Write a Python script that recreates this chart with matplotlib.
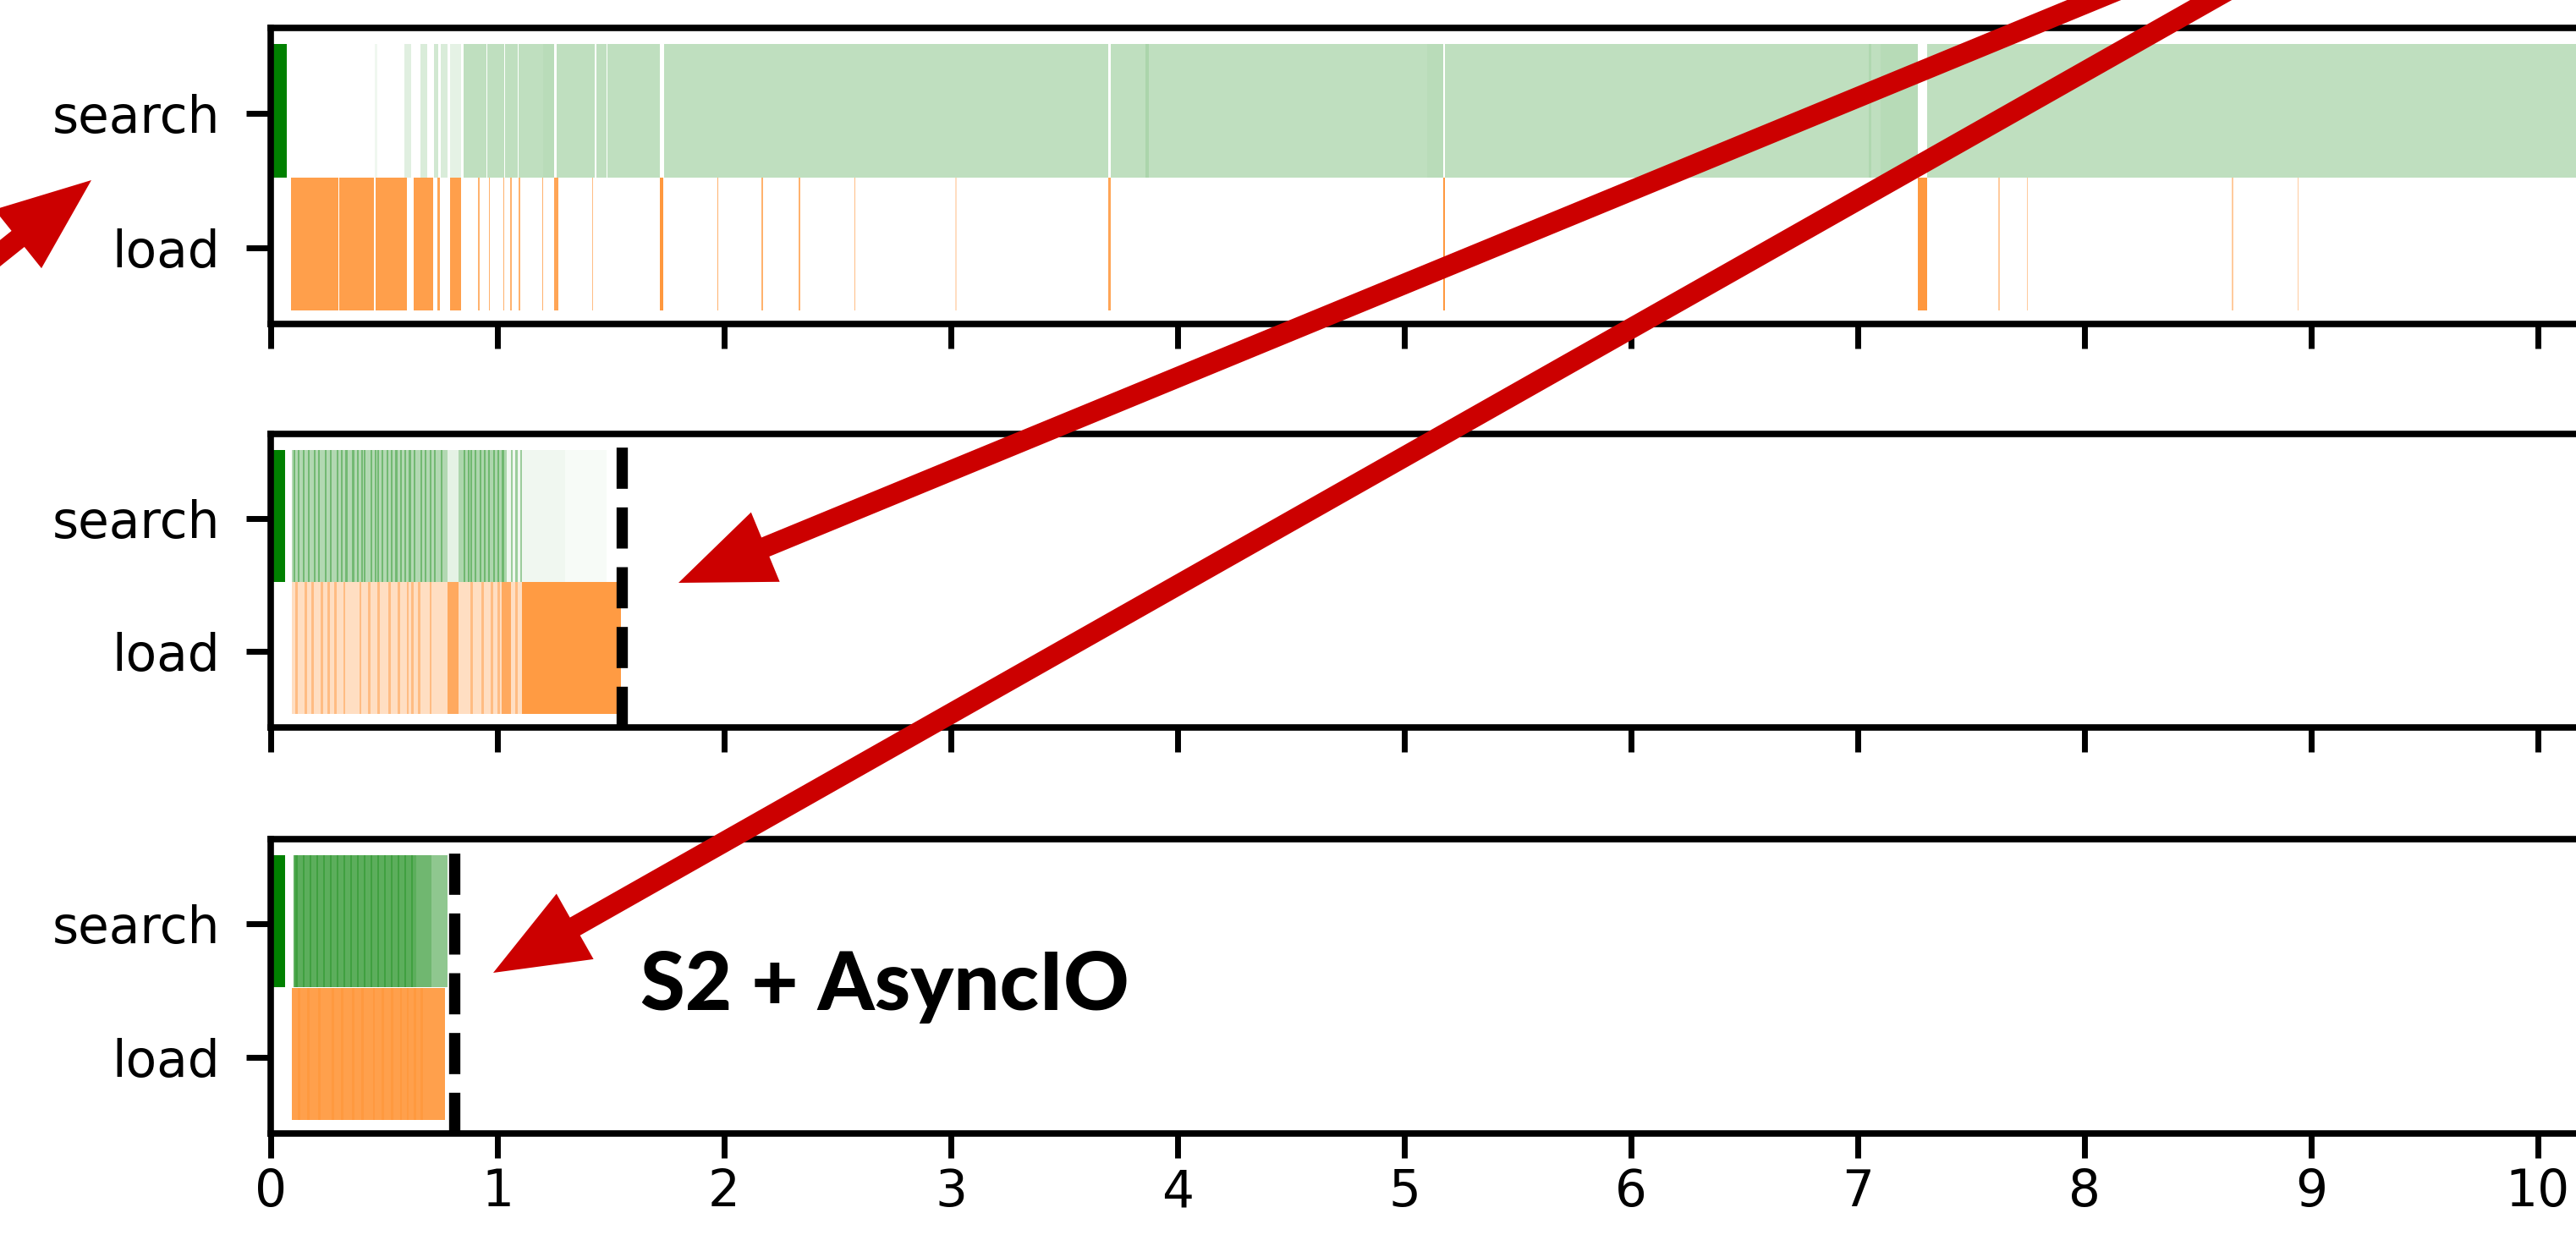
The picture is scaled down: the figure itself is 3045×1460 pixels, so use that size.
import matplotlib.pyplot as plt
from matplotlib.colors import to_rgba
from matplotlib.patches import FancyArrowPatch, ArrowStyle

rows = ['load', 'search']
x_ticks = list(range(0, 11))
label_text = 'S2 + AsyncIO'

# ---- panel 1 (top): (start, end, alpha)
p1_search_seg = [
    (0.00, 0.07, 1.0),
    (0.46, 0.47, 0.06), (0.59, 0.62, 0.12), (0.66, 0.69, 0.15), (0.72, 0.74, 0.18),
    (0.75, 0.78, 0.15), (0.79, 0.84, 0.10),
    (0.85, 0.95, 0.25), (0.955, 1.03, 0.25), (1.035, 1.09, 0.25), (1.095, 1.25, 0.25),
    (1.26, 1.43, 0.25), (1.435, 1.48, 0.25), (1.485, 1.715, 0.25), (1.735, 3.695, 0.25),
    (3.705, 5.17, 0.25), (5.18, 7.265, 0.25), (7.305, 10.6, 0.25),
]
p1_search_over = [
    (3.86, 3.872, 0.10), (5.10, 5.17, 0.03), (7.10, 7.265, 0.04), (7.05, 7.06, 0.08),
    (1.20, 1.25, 0.03),
]
p1_load_seg = [
    (0.089, 0.30, 0.75), (0.303, 0.455, 0.75), (0.462, 0.60, 0.75), (0.63, 0.715, 0.75),
    (0.735, 0.745, 0.70), (0.79, 0.84, 0.75), (0.915, 0.92, 0.60), (0.962, 0.967, 0.60),
    (1.025, 1.031, 0.60), (1.057, 1.062, 0.60), (1.095, 1.10, 0.60), (1.196, 1.202, 0.60),
    (1.25, 1.27, 0.70), (1.418, 1.423, 0.50), (1.717, 1.73, 0.80), (1.97, 1.975, 0.60),
    (2.165, 2.172, 0.60), (2.33, 2.336, 0.60), (2.575, 2.58, 0.50), (3.02, 3.025, 0.25),
    (3.695, 3.705, 0.70), (5.17, 5.18, 0.80), (7.265, 7.305, 0.80), (7.62, 7.625, 0.40),
    (7.745, 7.75, 0.40), (8.65, 8.655, 0.40), (8.94, 8.945, 0.40),
]

# ---- panel 2 (middle)
p2_end = 1.55
p2_search_seg = [
    (0.00, 0.062, 1.0),
    (0.093, 0.78, 0.30), (0.78, 0.83, 0.10), (0.83, 1.04, 0.32), (1.04, 1.11, 0.06),
    (1.11, 1.30, 0.06), (1.30, 1.48, 0.03),
]
p2_search_stripes = [
    0.10, 0.12, 0.14, 0.165, 0.19, 0.21, 0.24, 0.26, 0.29, 0.31, 0.33, 0.36, 0.38,
    0.40, 0.41, 0.44, 0.46, 0.47, 0.49, 0.51, 0.53, 0.55, 0.57, 0.59, 0.61, 0.63,
    0.66, 0.68, 0.70, 0.72, 0.75, 0.85, 0.87, 0.88, 0.90, 0.92, 0.94, 0.96, 0.98,
    1.00, 1.02, 1.06, 1.08, 1.10,
]
p2_load_seg = [
    (0.093, 1.11, 0.25), (0.78, 0.83, 0.55), (1.02, 1.06, 0.55), (1.11, 1.545, 0.78),
]
p2_load_stripes = [
    0.11, 0.15, 0.18, 0.22, 0.25, 0.28, 0.32, 0.39, 0.43, 0.47, 0.52, 0.56, 0.60,
    0.62, 0.65, 0.70, 0.88, 0.93, 0.97, 1.00, 1.08,
]

# ---- panel 3 (bottom)
p3_end = 0.81
p3_search_seg = [
    (0.00, 0.062, 1.0),
    (0.10, 0.64, 0.64), (0.64, 0.71, 0.56), (0.71, 0.78, 0.44),
]
p3_search_stripes = [
    0.11, 0.14, 0.17, 0.20, 0.23, 0.26, 0.29, 0.32, 0.35, 0.38, 0.41, 0.44, 0.47,
    0.50, 0.53, 0.56, 0.59, 0.62,
]
p3_load_seg = [(0.093, 0.77, 0.74)]
p3_load_stripes = [
    0.12, 0.16, 0.21, 0.27, 0.31, 0.36, 0.40, 0.45, 0.49, 0.53, 0.57, 0.60, 0.63, 0.66,
]

GREEN = 'green'
ORANGE = '#ff7f0e'
W = 3045
H = 1460

plt.rcParams['font.family'] = ['DejaVu Sans']
fig = plt.figure(figsize=(W / 100, H / 100), dpi=100)

left = 320 / W
width = 10.6 * 268 / W
tops = [33, 513, 992]
bots = [383, 860, 1340]


def draw_segs(ax, segs, y, color):
    ax.barh(y, [e - s for s, e, a in segs], left=[s for s, e, a in segs],
            height=0.99, color=[to_rgba(color, a) for s, e, a in segs], linewidth=0)


def draw_stripes(ax, xs, y, color, alpha, w):
    ax.barh([y] * len(xs), [w] * len(xs), left=xs, height=0.99,
            color=to_rgba(color, alpha), linewidth=0)


axes = []
for i in range(3):
    ax = fig.add_axes([left, 1 - bots[i] / H, width, (bots[i] - tops[i]) / H])
    ax.set_xlim(0, 10.6)
    ax.set_ylim(-0.57, 1.635)
    ax.set_yticks([0, 1])
    ax.set_yticklabels(rows)
    ax.set_xticks(x_ticks)
    if i < 2:
        ax.set_xticklabels([])
    for sp in ax.spines.values():
        sp.set_linewidth(5.5)
    ax.tick_params(axis='both', length=21, width=5, labelsize=43)
    ax.tick_params(axis='y', pad=22)
    ax.tick_params(axis='x', pad=8)
    axes.append(ax)

ys, yl = 1.018, 0.025
dash = (0, (3.65, 1.65))

draw_segs(axes[0], p1_search_seg, ys, GREEN)
draw_segs(axes[0], p1_search_over, ys, GREEN)
draw_segs(axes[0], p1_load_seg, yl, ORANGE)

draw_segs(axes[1], p2_search_seg, ys, GREEN)
draw_stripes(axes[1], p2_search_stripes, ys, GREEN, 0.35, 0.008)
draw_segs(axes[1], p2_load_seg, yl, ORANGE)
draw_stripes(axes[1], p2_load_stripes, yl, ORANGE, 0.35, 0.01)
axes[1].axvline(p2_end, color='black', linewidth=9.6, linestyle=dash)

draw_segs(axes[2], p3_search_seg, ys, GREEN)
draw_stripes(axes[2], p3_search_stripes, ys, GREEN, 0.3, 0.008)
draw_segs(axes[2], p3_load_seg, yl, ORANGE)
draw_stripes(axes[2], p3_load_stripes, yl, ORANGE, 0.2, 0.01)
axes[2].axvline(p3_end, color='black', linewidth=9.6, linestyle=dash)

fig.text(757 / W, 1 - 1194 / H, label_text, fontsize=69, fontweight='black',
         family=['Lato', 'DejaVu Sans'], ha='left', va='baseline')

# red annotation arrows (pixel positions on the slide)
arrows = [((-127, 401), (108, 213)), ((2558, -34), (802, 689)), ((2716, -58), (583, 1150))]
style = ArrowStyle.Simple(head_length=8.0, head_width=6.4, tail_width=1.75)
for (x0, y0), (x1, y1) in arrows:
    arr = FancyArrowPatch((x0 / W, 1 - y0 / H), (x1 / W, 1 - y1 / H),
                          transform=fig.transFigure, arrowstyle=style,
                          mutation_scale=10, color='#cc0000', linewidth=0,
                          shrinkA=0, shrinkB=0, zorder=10)
    fig.add_artist(arr)

fig.savefig('out.png', dpi=100)
